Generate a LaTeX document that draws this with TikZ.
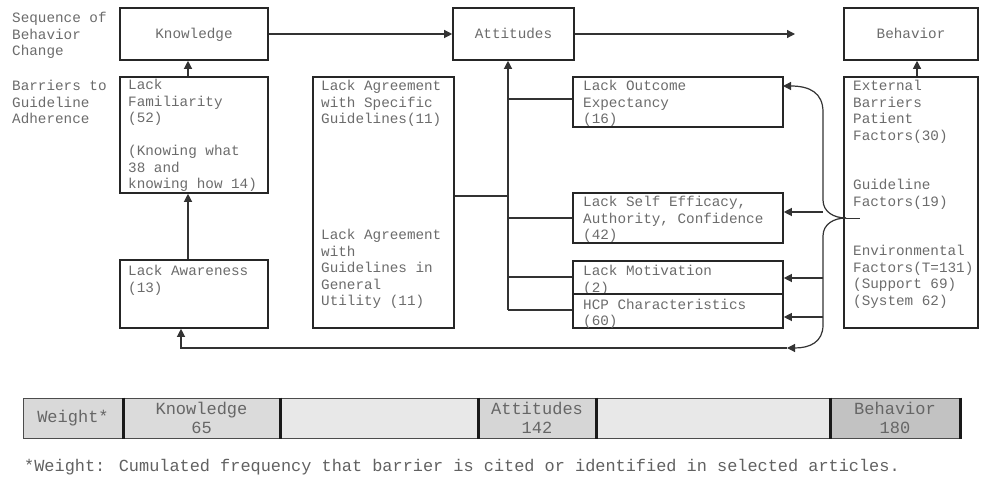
\documentclass[tikz,border=0pt]{standalone}
\usepackage{fontspec}
\newfontfamily\cour{Liberation Mono}
\usetikzlibrary{arrows.meta,fit}
\tikzset{
  box/.style={draw=black!85, line width=1.6pt, inner sep=0pt},
  txt/.style={font=\cour\fontsize{14.3}{16.6}\selectfont, text=black!58, align=left, inner sep=0pt, anchor=north west},
  ctxt/.style={font=\cour\fontsize{14.3}{16.6}\selectfont, text=black!58, inner sep=0pt, text height=10pt, text depth=0pt},
  conn/.style={draw=black!80, line width=1.2pt},
  arr/.style={conn, -{Triangle[length=8pt,width=8pt]}},
  cell/.style={draw=black!70, line width=1pt, inner sep=0pt},
  celltxt/.style={font=\cour\fontsize{17}{19}\selectfont, text=black!60, align=center, inner sep=0pt},
  div/.style={draw=black!90, line width=2.2pt}
}
\begin{document}
\begin{tikzpicture}[x=1pt,y=-1pt]
\useasboundingbox (0,0) rectangle (981,478);
% top row
\node[box, fit={(120,8)(268,60)}] (kn) {};
\node[ctxt] (knt) at (kn.center) {Knowledge};
\node[box, fit={(453,8)(574,60)}] (att) {};
\node[ctxt] (attt) at (att.center) {Attitudes};
\node[box, fit={(844,8)(978,60)}] (beh) {};
\node[ctxt] (beht) at (beh.center) {Behavior};
\coordinate (attend) at (795,34);
\draw[arr] (kn) -- (att);
\draw[arr] (att) -- (attend);
% left labels
\node[txt] (seq) at (12,12) {Sequence of\\Behavior\\Change};
\node[txt] (bar) at (12,80) {Barriers to\\Guideline\\Adherence};
% barrier boxes
\node[box, fit={(120,77)(268,193)}] (lf) {};
\node[txt] (lft) at (128,79) {Lack\\Familiarity\\(52)\\[16.4pt](Knowing what\\38 and\\knowing how 14)};
\node[box, fit={(120,260)(268,328)}] (la) {};
\node[txt] (lat) at (128,265) {Lack Awareness\\(13)};
\node[box, fit={(313,77)(454,328)}] (lag) {};
\node[txt] (lagt1) at (321,80) {Lack Agreement\\with Specific\\Guidelines(11)};
\node[txt] (lagt2) at (321,229) {Lack Agreement\\with\\Guidelines in\\General\\Utility (11)};
\node[box, fit={(573,77)(783,127)}] (lo) {};
\node[txt] (lot) at (583,80) {Lack Outcome\\Expectancy\\(16)};
\node[box, fit={(573,193)(783,243)}] (se) {};
\node[txt] (set) at (583,196) {Lack Self Efficacy,\\Authority, Confidence\\(42)};
\node[box, fit={(573,261)(783,294)}] (lm) {};
\node[txt] (lmt) at (583,265) {Lack Motivation\\(2)};
\node[box, fit={(573,294)(783,328)}] (hcp) {};
\node[txt] (hcpt) at (583,298.5) {HCP Characteristics\\(60)};
\node[box, fit={(844,77)(978,328)}] (ext) {};
\node[txt, font=\cour\fontsize{14.3}{16.5}\selectfont] (extt) at (853,80) {External\\Barriers\\Patient\\Factors(30)\\[33pt]Guideline\\Factors(19)\\[33pt]Environmental\\Factors(T=131)\\(Support 69)\\(System 62)};
% vertical arrows
\draw[arr] ([xshift=-6pt]lf.north) -- ([xshift=-6pt]kn.south);
\draw[arr] ([xshift=-6pt]la.north) -- ([xshift=-6pt]lf.south);
\draw[arr] ([xshift=6pt]ext.north) -- ([xshift=6pt]beh.south);
% trunk to attitudes
\coordinate (tb) at (508,310);
\draw[arr] (tb) -- (tb |- att.south);
\coordinate (j1) at (508,196);
\draw[conn] (lag.east |- j1) -- (j1);
\coordinate (j2) at (508,99);
\draw[conn] (j2) -- (lo.west |- j2);
\coordinate (j3) at (508,218);
\draw[conn] (j3) -- (se.west |- j3);
\coordinate (j4) at (508,277);
\draw[conn] (j4) -- (lm.west |- j4);
\draw[conn] (tb) -- (hcp.west |- tb);
% brace
\coordinate (bm) at (846,218);
\coordinate (btip) at (860,218);
\coordinate (btop) at (783,86);
\coordinate (bl) at (787,348);
\coordinate (bl2) at (181,348);
\draw[arr] (bm) .. controls (834,218) and (823,212) .. (823,200) -- (823,112) .. controls (823,93) and (810,86) .. (btop);
\draw[arr] (bm) .. controls (834,218) and (823,224) .. (823,236) -- (823,325) .. controls (823,342) and (810,348) .. (bl);
\draw[conn, line width=0.9pt] (bm) -- (btip);
\draw[arr] (bl) -- (bl2) -- (bl2 |- la.south);
\coordinate (b1) at (823,212);
\draw[arr] (b1) -- (se.east |- b1);
\coordinate (b2) at (823,278);
\draw[arr] (b2) -- (lm.east |- b2);
\coordinate (b3) at (823,317);
\draw[arr] (b3) -- (hcp.east |- b3);
% weight table
\node[cell, fill=black!15, fit={(23,398)(123,438)}] (t1) {};
\node[cell, fill=black!14, fit={(123,398)(280,438)}] (t2) {};
\node[cell, fill=black!9, fit={(280,398)(478,438)}] (t3) {};
\node[cell, fill=black!16, fit={(478,398)(596,438)}] (t4) {};
\node[cell, fill=black!9, fit={(596,398)(830,438)}] (t5) {};
\node[cell, fill=black!24, fit={(830,398)(960,438)}] (t6) {};
\node[celltxt] (t1t) at (t1.center) {Weight*};
\node[celltxt] (t2t) at (t2.center) {Knowledge\\65};
\node[celltxt] (t4t) at (t4.center) {Attitudes\\142};
\node[celltxt] (t6t) at (t6.center) {Behavior\\180};
\draw[div] (t1.north east) -- (t1.south east);
\draw[div] (t2.north east) -- (t2.south east);
\draw[div] (t3.north east) -- (t3.south east);
\draw[div] (t4.north east) -- (t4.south east);
\draw[div] (t5.north east) -- (t5.south east);
\draw[div] (t6.north east) -- (t6.south east);
\node[font=\cour\fontsize{16.9}{19}\selectfont, text=black!62, anchor=west, inner sep=0pt] (fn) at (24,467) {*Weight: Cumulated frequency that barrier is cited or identified in selected articles.};
\end{tikzpicture}
\end{document}
